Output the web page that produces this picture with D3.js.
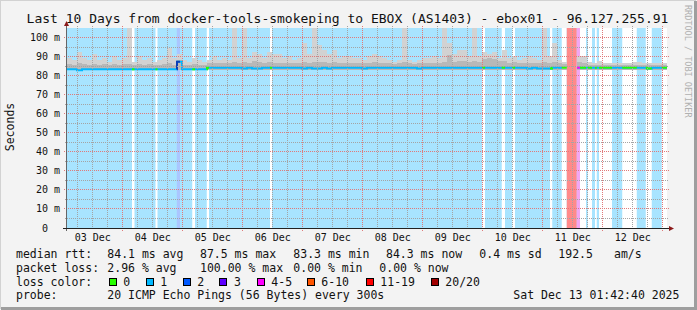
<!DOCTYPE html>
<html><head><meta charset="utf-8">
<script src="https://cdn.jsdelivr.net/npm/d3@7"></script>
<style>
html,body{margin:0;padding:0;background:#f3f3f3;}
svg{display:block;font-family:"DejaVu Sans Mono",monospace;}
</style>
</head><body>
<svg id="chart" width="697" height="310"></svg>
<script>
// ---------------- DATA ----------------
const titleText = "Last 10 Days from docker-tools-smokeping to EBOX (AS1403) - ebox01 - 96.127.255.91";
const startTime = "2025-12-03T01:42:40Z";
const endTime   = "2025-12-13T01:42:40Z";
const binHours = 2; // each value below covers 2 hours

// median RTT (ms), one value per 2-hour bin (null = 100% loss)
const medianMs = [
  83.5,83.5,83.0,83.5,83.5,83.5,83.5,83.5,83.5,83.5,
  83.5,83.5,83.5,83.5,83.5,83.5,83.5,83.5,83.5,83.5,
  83.5,83.5,87.5,83.5,83.5,83.5,83.5,83.5,84.4,84.4,
  84.4,84.4,84.4,84.4,84.4,83.9,84.4,83.9,83.9,84.4,
  84.4,84.4,84.4,84.4,84.4,84.4,84.4,83.9,84.4,83.9,
  83.9,84.4,83.9,84.4,84.4,84.4,84.4,84.4,84.4,83.9,
  84.4,84.4,84.4,84.4,84.4,84.4,84.4,84.4,84.4,84.4,
  83.9,84.4,84.4,84.4,84.4,84.4,84.4,84.4,84.4,84.4,
  84.4,84.4,84.4,84.4,84.4,84.4,84.4,84.4,84.4,84.4,
  84.4,84.4,83.9,84.4,83.9,83.9,83.9,84.4,84.4,84.4,
  null,null,84.4,84.4,84.4,84.4,84.4,84.4,84.4,84.4,
  84.4,84.4,84.4,84.4,84.4,84.4,83.9,84.4,84.4,84.4
];
// smoke: highest ping per bin (ms)
const smokeTopMs = [
  89.5,88.5,92.5,89.5,88.5,91.5,88.5,89.5,87.5,90.5,
  88.5,89.5,110,87.5,90.5,88.5,89.5,87.5,88.5,89.5,
  94.5,89.5,91.5,88.5,87.5,89.5,88.5,87.5,88.5,90.5,
  88.5,89.5,88.5,110,89.5,110,89.5,92.5,91.5,89.5,
  92.5,91.5,91.5,89.5,90.5,88.5,89.5,97.5,91.5,110,
  96.5,93.5,91.5,93.5,89.5,90.5,90.5,89.5,89.5,88.5,
  90.5,91.5,90.5,89.5,88.5,87.5,88.5,110,88.5,87.5,
  88.5,89.5,89.5,90.5,89.5,110,97.5,91.5,93.5,93.5,
  90.5,110,90.5,92.5,91.5,92.5,89.5,93.5,89.5,90.5,
  88.5,89.5,90.5,89.5,88.5,110,90.5,97.5,88.5,87.5,
  null,null,90.5,90.5,87.5,87.0,88.0,87.0,87.0,87.0,
  87.0,87.0,87.0,87.5,87.5,87.0,87.0,87.0,87.0,87.0
];
// smoke: upper-middle pings per bin (darker smoke, ms)
const smokeMidMs = [
  86.2,86.0,87.0,86.2,86.0,86.5,86.0,86.2,85.8,86.5,
  86.0,86.2,86.5,85.8,86.2,86.0,86.2,85.8,86.0,86.2,
  86.8,86.0,88.5,86.0,85.8,86.2,86.0,85.8,86.6,87.0,
  86.6,86.8,86.6,87.2,86.8,87.2,86.8,88.0,87.2,86.8,
  87.2,87.0,87.0,86.8,87.0,86.6,86.8,87.5,87.0,87.5,
  87.5,87.2,87.0,87.2,86.8,87.0,87.0,86.8,86.8,86.6,
  87.0,87.2,87.0,86.8,86.6,86.4,86.6,87.2,86.6,86.4,
  86.6,86.8,86.8,87.0,86.8,87.5,91.0,87.5,88.0,88.0,
  87.5,88.0,87.5,89.0,89.5,89.0,88.0,88.0,87.0,87.2,
  86.6,86.8,87.0,86.8,86.6,87.2,87.0,87.5,86.6,86.4,
  null,null,87.5,87.0,85.8,85.8,86.0,85.8,85.8,85.8,
  85.8,85.8,85.8,86.0,86.0,85.8,85.8,85.8,85.8,85.8
];
const smokeMinMs = 83.0;

// loss periods that differ from the usual 1/20: [start hour, end hour, lost pings]
const lossSegments = [
  [26.0,27.0,0],[35.4,36.2,0],[43.9,45.2,2],[50.1,51.2,0],[55.9,56.8,0],
  [81.2,82.0,0],[166.1,167.2,0],[173.9,175.2,0],[178.1,179.2,0],[193.2,194.1,0],
  [197.9,199.9,0],[199.9,203.9,20],[203.9,205.2,4],[205.2,207.6,0],[208.3,210.0,0],
  [211.2,211.9,0],[212.8,218.0,0],[222.1,227.9,0],[231.5,233.9,0],[237.9,240.0,0]
];
const defaultLoss = 1;

const lossLabels = ["0","1","2","3","4-5","6-10","11-19","20/20"];
const lossColors = ["#26ff00","#00b8ff","#0059ff","#5e00ff","#ff00ff","#ff5500","#ff0000","#a10000"];
const lossBg = {0:"#ffffff",1:"#a8e4ff",2:"#aac6ff",4:"#f2a6f2",20:"#ff8a8a"};
const lossLine = {0:"#26ff00",1:"#00b8ff",2:"#0a3fb8",4:"#ff00ff",20:null};

const yTickValues = [0,10,20,30,40,50,60,70,80,90,100];
const xTickLabels = ["03 Dec","04 Dec","05 Dec","06 Dec","07 Dec","08 Dec","09 Dec","10 Dec","11 Dec","12 Dec"];

const legendRow1 = [["median rtt:",16],["84.1 ms avg",107.3],["87.5 ms max",200],["83.3 ms min",293.3],["84.3 ms now",386],["0.4 ms sd",479.3],["192.5",558.3],["am/s",614]];
const legendRow2 = [["packet loss:",16],["2.96 % avg",107.3],["100.00 % max",200],["0.00 % min",293.3],["0.00 % now",379.3]];
const legendSwatchX = [108.7,145.7,182.7,219.3,256.7,306.7,365.7,430.7];
const legendRow4 = [["probe:",16],["20 ICMP Echo Pings (56 Bytes) every 300s",107.3],["Sat Dec 13 01:42:40 2025",513.3]];

// ---------------- DRAW ----------------
const svg = d3.select("#chart");
const W = 697, H = 310;
const L = 67, R = 667, T = 28, B = 228;
const t0 = new Date(startTime), t1 = new Date(endTime);
const hour = 3600e3;
const x = d3.scaleUtc().domain([t0,t1]).range([L,R]);
const y = d3.scaleLinear().domain([0,105.26]).range([B,T]);
const tAt = h => new Date(+t0 + h*hour);

// frame
svg.append("rect").attr("width",W).attr("height",H).attr("fill","#f3f3f3");
svg.append("path").attr("d",`M0,${H-1}V0H${W-1}`).attr("stroke","#d2d2d2").attr("stroke-width",2).attr("fill","none");
svg.append("path").attr("d",`M1,${H-1.5}H${W-1.5}V1`).attr("stroke","#9e9e9e").attr("stroke-width",3).attr("fill","none");

svg.append("defs").append("clipPath").attr("id","plotclip")
  .append("rect").attr("x",L).attr("y",T).attr("width",R-L).attr("height",B-T);
const plot = svg.append("g").attr("clip-path","url(#plotclip)");

// background by loss
plot.append("rect").attr("x",L).attr("y",T).attr("width",x(t1)-L).attr("height",B-T).attr("fill",lossBg[defaultLoss]);
plot.selectAll("rect.loss").data(lossSegments).join("rect").attr("class","loss")
  .attr("x",d=>x(tAt(d[0]))).attr("width",d=>x(tAt(d[1]))-x(tAt(d[0])))
  .attr("y",T).attr("height",B-T).attr("fill",d=>lossBg[d[2]]);

// smoke
const bins = smokeTopMs.map((v,i)=>({i,top:v,mid:smokeMidMs[i]})).filter(d=>d.top!=null);
const bx = i => x(tAt(i*binHours)), bw = i => x(tAt((i+1)*binHours)) - x(tAt(i*binHours));
plot.selectAll("rect.smokeTop").data(bins).join("rect").attr("class","smokeTop")
  .attr("x",d=>bx(d.i)).attr("width",d=>bw(d.i)).attr("y",d=>y(d.top)).attr("height",d=>y(smokeMinMs)-y(d.top))
  .attr("fill","#d2d2d2").attr("shape-rendering","crispEdges");
plot.selectAll("rect.smokeMid").data(bins).join("rect").attr("class","smokeMid")
  .attr("x",d=>bx(d.i)).attr("width",d=>bw(d.i)).attr("y",d=>y(d.mid)).attr("height",d=>y(smokeMinMs)-y(d.mid))
  .attr("fill","#b8b8b8").attr("shape-rendering","crispEdges");

// grid
const gGrid = svg.append("g").attr("shape-rendering","crispEdges");
const minorY = d3.range(5,105,10);
gGrid.selectAll("line.ymin").data(minorY).join("line")
  .attr("x1",L-2).attr("x2",R+2).attr("y1",d=>y(d)).attr("y2",d=>y(d))
  .attr("stroke","#a4a4a4").attr("stroke-dasharray","1,1");
gGrid.selectAll("line.ymaj").data(yTickValues.filter(d=>d>0)).join("line")
  .attr("x1",L-3).attr("x2",R+2).attr("y1",d=>y(d)).attr("y2",d=>y(d))
  .attr("stroke","#e07a7a").attr("stroke-dasharray","1,1");
const minorX = d3.utcHour.every(6).range(t0,t1).filter(d=>d.getUTCHours()!==0);
const majorX = d3.utcDay.range(t0,t1);
gGrid.selectAll("line.xmin").data(minorX).join("line")
  .attr("x1",d=>x(d)).attr("x2",d=>x(d)).attr("y1",T-2).attr("y2",B+2)
  .attr("stroke","#a4a4a4").attr("stroke-dasharray","1,1");
gGrid.selectAll("line.xmaj").data(majorX).join("line")
  .attr("x1",d=>x(d)).attr("x2",d=>x(d)).attr("y1",T-2).attr("y2",B+3)
  .attr("stroke","#e07a7a").attr("stroke-dasharray","1,1");

// median line (step), base colour = default loss
const medPts = medianMs.map((v,i)=>[tAt(i*binHours),v]);
medPts.push([tAt(medianMs.length*binHours), medianMs[medianMs.length-1]]);
const line = d3.line().defined(d=>d[1]!=null).x(d=>x(d[0])).y(d=>y(d[1])).curve(d3.curveStepAfter);
plot.append("path").datum(medPts).attr("d",line).attr("fill","none")
  .attr("stroke",lossLine[defaultLoss]).attr("stroke-width",2);
// overlay loss-coloured pieces
const medAt = h => medianMs[Math.min(medianMs.length-1, Math.floor(h/binHours))];
lossSegments.filter(s=>lossLine[s[2]]).forEach(s=>{
  const pts = [[tAt(s[0]),medAt(s[0])]];
  for (let b=Math.ceil(s[0]/binHours)*binHours; b<s[1]; b+=binHours) if (b>s[0]) pts.push([tAt(b),medAt(b)]);
  pts.push([tAt(s[1]),medAt(Math.max(s[0],s[1]-0.001))]);
  plot.append("path").datum(pts).attr("d",line).attr("fill","none")
    .attr("stroke",lossLine[s[2]]).attr("stroke-width",2);
});

// axes
svg.append("line").attr("x1",L-0.5).attr("x2",L-0.5).attr("y1",B+3).attr("y2",T-4)
  .attr("stroke","#666").attr("shape-rendering","crispEdges");
svg.append("line").attr("x1",L-4).attr("x2",R+3).attr("y1",B+0.5).attr("y2",B+0.5)
  .attr("stroke","#222").attr("shape-rendering","crispEdges");
svg.append("path").attr("d",`M${L-3},${T-2}L${L+2},${T-2}L${L-0.5},${T-7}Z`).attr("fill","#8b1a1a");
svg.append("path").attr("d",`M${R+2},${B-2}L${R+2},${B+3}L${R+7},${B+0.5}Z`).attr("fill","#8b1a1a");

// y tick labels
svg.selectAll("text.ytick").data(yTickValues).join("text")
  .attr("x",d=>d===0?48:60).attr("y",d=>y(d)+3.5).attr("text-anchor","end")
  .attr("font-size",10).attr("fill","#111").text(d=>d===0?"0":d+" m");
// x tick labels at noon
svg.selectAll("text.xtick").data(xTickLabels).join("text")
  .attr("x",(d,i)=>x(d3.utcHour.offset(majorX[0],-12+24*i))).attr("y",241)
  .attr("text-anchor","middle").attr("font-size",10).attr("fill","#111").text(d=>d);

// title & side texts
svg.append("text").attr("x",347.5).attr("y",23).attr("text-anchor","middle")
  .attr("font-size",13).attr("fill","#111").text(titleText);
svg.append("text").attr("transform","translate(14,127) rotate(-90)").attr("text-anchor","middle")
  .attr("font-size",11.5).attr("fill","#111").text("Seconds");
svg.append("text").attr("transform","translate(685,5) rotate(90)").attr("text-anchor","start")
  .attr("font-size",8.5).attr("fill","#b0b0b0").text("RRDTOOL / TOBI OETIKER");

// legend
const leg = svg.append("g").attr("font-size",11.5).attr("fill","#111");
leg.selectAll("text.r1").data(legendRow1).join("text").attr("x",d=>d[1]).attr("y",258).text(d=>d[0]);
leg.selectAll("text.r2").data(legendRow2).join("text").attr("x",d=>d[1]).attr("y",271.5).text(d=>d[0]);
leg.append("text").attr("x",16).attr("y",285.5).text("loss color:");
leg.selectAll("rect.sw").data(lossColors).join("rect")
  .attr("x",(d,i)=>legendSwatchX[i]+0.5).attr("y",278.5).attr("width",7).attr("height",7)
  .attr("fill",d=>d).attr("stroke","#000").attr("shape-rendering","crispEdges");
leg.selectAll("text.sl").data(lossLabels).join("text")
  .attr("x",(d,i)=>legendSwatchX[i]+14.6).attr("y",285.5).text(d=>d);
leg.selectAll("text.r4").data(legendRow4).join("text").attr("x",d=>d[1]).attr("y",299).text(d=>d[0]);
</script>
</body></html>
